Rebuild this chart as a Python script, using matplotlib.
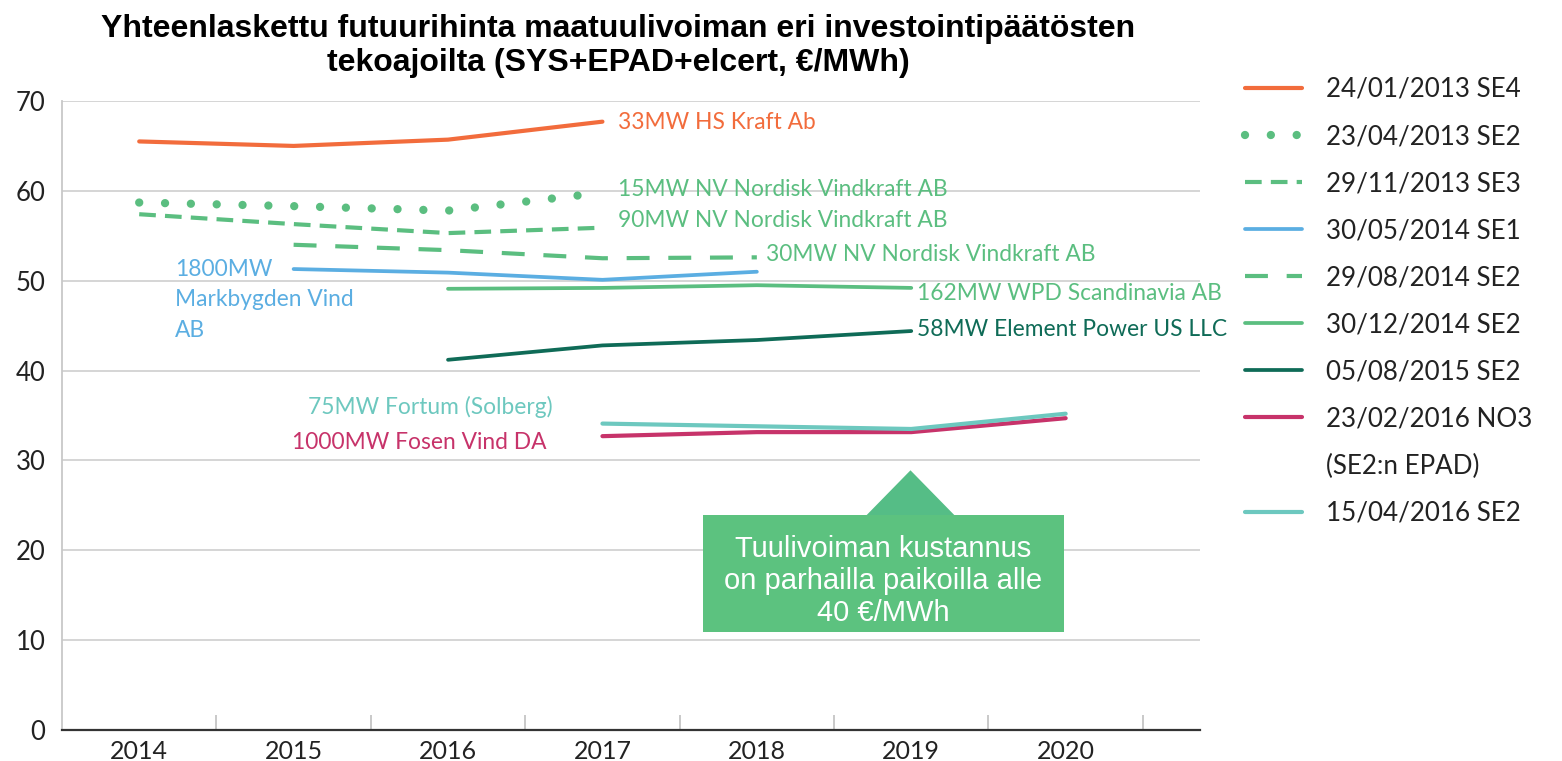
import matplotlib
matplotlib.use("Agg")
import matplotlib.pyplot as plt
from matplotlib.lines import Line2D
from matplotlib.patches import Rectangle, Polygon

plt.rcParams['font.family'] = ['Lato', 'DejaVu Sans']

# Data (EUR/MWh)
years = [2014, 2015, 2016, 2017, 2018, 2019, 2020]

se4_2013_01 = [65.5, 65.0, 65.7, 67.7]          # 2014-2017
se2_2013_04 = [58.7, 58.3, 57.8, 59.8]          # 2014-2017
se3_2013_11 = [57.4, 56.3, 55.3, 55.9]          # 2014-2017
se1_2014_05 = [51.3, 50.9, 50.1, 51.0]          # 2015-2018
se2_2014_08 = [54.0, 53.4, 52.5, 52.6]          # 2015-2018
se2_2014_12 = [49.1, 49.2, 49.5, 49.2]          # 2016-2019
se2_2015_08 = [41.2, 42.8, 43.4, 44.4]          # 2016-2019
no3_2016_02 = [32.7, 33.15, 33.15, 34.7]        # 2017-2020
se2_2016_04 = [34.1, 33.8, 33.5, 35.2]          # 2017-2020

legend_labels = ['24/01/2013 SE4', '23/04/2013 SE2', '29/11/2013 SE3',
                 '30/05/2014 SE1', '29/08/2014 SE2', '30/12/2014 SE2',
                 '05/08/2015 SE2', '23/02/2016 NO3', '(SE2:n EPAD)',
                 '15/04/2016 SE2']

orange = '#F26C3C'
green = '#5BBE80'
blue = '#5BAEE2'
dkgreen = '#0F6B57'
magenta = '#C7336A'
teal = '#6DC8BF'

fig = plt.figure(figsize=(15.62, 7.61), dpi=100)
ax = fig.add_axes([62 / 1562, 31 / 761, (1200 - 62) / 1562, (730 - 101) / 761])

h1, = ax.plot(years[0:4], se4_2013_01, color=orange, lw=3, solid_capstyle='round')
h2, = ax.plot(years[0:4], se2_2013_04, color=green, lw=6,
              linestyle=(0, (0.001, 3.1)), dash_capstyle='round')
h3, = ax.plot(years[0:4], se3_2013_11, color=green, lw=3,
              linestyle=(0, (4.0, 2.2)))
h4, = ax.plot(years[1:5], se1_2014_05, color=blue, lw=2.7, solid_capstyle='round')
h5, = ax.plot(years[1:5], se2_2014_08, color=green, lw=3,
              linestyle=(0, (5.5, 4.5)))
h6, = ax.plot(years[2:6], se2_2014_12, color=green, lw=2.7, solid_capstyle='round')
h7, = ax.plot(years[2:6], se2_2015_08, color=dkgreen, lw=2.7, solid_capstyle='round')
h8, = ax.plot(years[3:7], no3_2016_02, color=magenta, lw=3, solid_capstyle='round')
h10, = ax.plot(years[3:7], se2_2016_04, color=teal, lw=3, solid_capstyle='round')
h9 = Line2D([], [], color='none')

# point labels
lab_fs = 16.4
ax.text(2017.10, 67.6, '33MW HS Kraft Ab', color=orange, fontsize=lab_fs, va='center')
ax.text(2017.10, 60.2, '15MW NV Nordisk Vindkraft AB', color=green, fontsize=lab_fs, va='center')
ax.text(2017.10, 56.7, '90MW NV Nordisk Vindkraft AB', color=green, fontsize=lab_fs, va='center')
ax.text(2018.06, 52.9, '30MW NV Nordisk Vindkraft AB', color=green, fontsize=lab_fs, va='center')
ax.text(2014.23, 52.4, '1800MW\nMarkbygden Vind\nAB', color=blue, fontsize=lab_fs,
        va='top', linespacing=1.55)
ax.text(2019.04, 48.6, '162MW WPD Scandinavia AB', color=green, fontsize=lab_fs, va='center')
ax.text(2019.04, 44.6, '58MW Element Power US LLC', color=dkgreen, fontsize=lab_fs, va='center')
ax.text(2016.68, 36.0, '75MW Fortum (Solberg)', color=teal, fontsize=lab_fs, va='center', ha='right')
ax.text(2016.64, 32.0, '1000MW Fosen Vind DA', color=magenta, fontsize=lab_fs, va='center', ha='right')

# callout box
ax.add_patch(Polygon([(2018.71, 23.9), (2018.995, 28.9), (2019.28, 23.9)],
                     closed=True, color='#55BD86', lw=0, zorder=4))
ax.add_patch(Rectangle((2017.65, 10.9), 2019.99 - 2017.65, 23.9 - 10.9,
                       color='#5CC27F', lw=0, zorder=4))
ax.text(2018.82, 16.6, 'Tuulivoiman kustannus\non parhailla paikoilla alle\n40 €/MWh',
        color='white', fontsize=21, ha='center', va='center', linespacing=1.18,
        family=['Liberation Sans', 'DejaVu Sans'], zorder=5)

# axes styling
ax.set_xlim(2013.5, 2020.87)
ax.set_ylim(0, 70)
ax.set_yticks(range(0, 71, 10))
ax.set_xticks(years)
ax.set_xticks([y + 0.5 for y in years], minor=True)
ax.grid(axis='y', color='#D2D2D2', lw=1.3)
ax.set_axisbelow(True)
for s in ['top', 'right']:
    ax.spines[s].set_visible(False)
ax.spines['left'].set_color('#C8C8C8')
ax.spines['left'].set_linewidth(1.3)
ax.spines['bottom'].set_color('#333333')
ax.spines['bottom'].set_linewidth(1.6)
ax.tick_params(axis='y', length=0, pad=12, labelsize=18.5, labelcolor='#222222')
ax.tick_params(axis='x', which='major', length=0, pad=7, labelsize=18, labelcolor='#222222')
ax.tick_params(axis='x', which='minor', direction='in', length=11, width=1.2, color='#C0C0C0')

fig.text(618 / 1562, 1 - 46 / 761,
         'Yhteenlaskettu futuurihinta maatuulivoiman eri investointipäätösten\n'
         'tekoajoilta (SYS+EPAD+elcert, €/MWh)',
         ha='center', va='center', fontsize=23, fontweight='bold',
         family=['Liberation Sans', 'DejaVu Sans'], linespacing=1.17)

leg = fig.legend([h1, h2, h3, h4, h5, h6, h7, h8, h9, h10], legend_labels,
                 loc='upper left', bbox_to_anchor=(1245 / 1562, 1 - 77 / 761),
                 frameon=False, fontsize=18.7, handlelength=2.2, handletextpad=0.9,
                 labelspacing=0.85, borderpad=0, borderaxespad=0)
for t in leg.get_texts():
    t.set_color('#222222')

fig.savefig('out.png', dpi=100)
